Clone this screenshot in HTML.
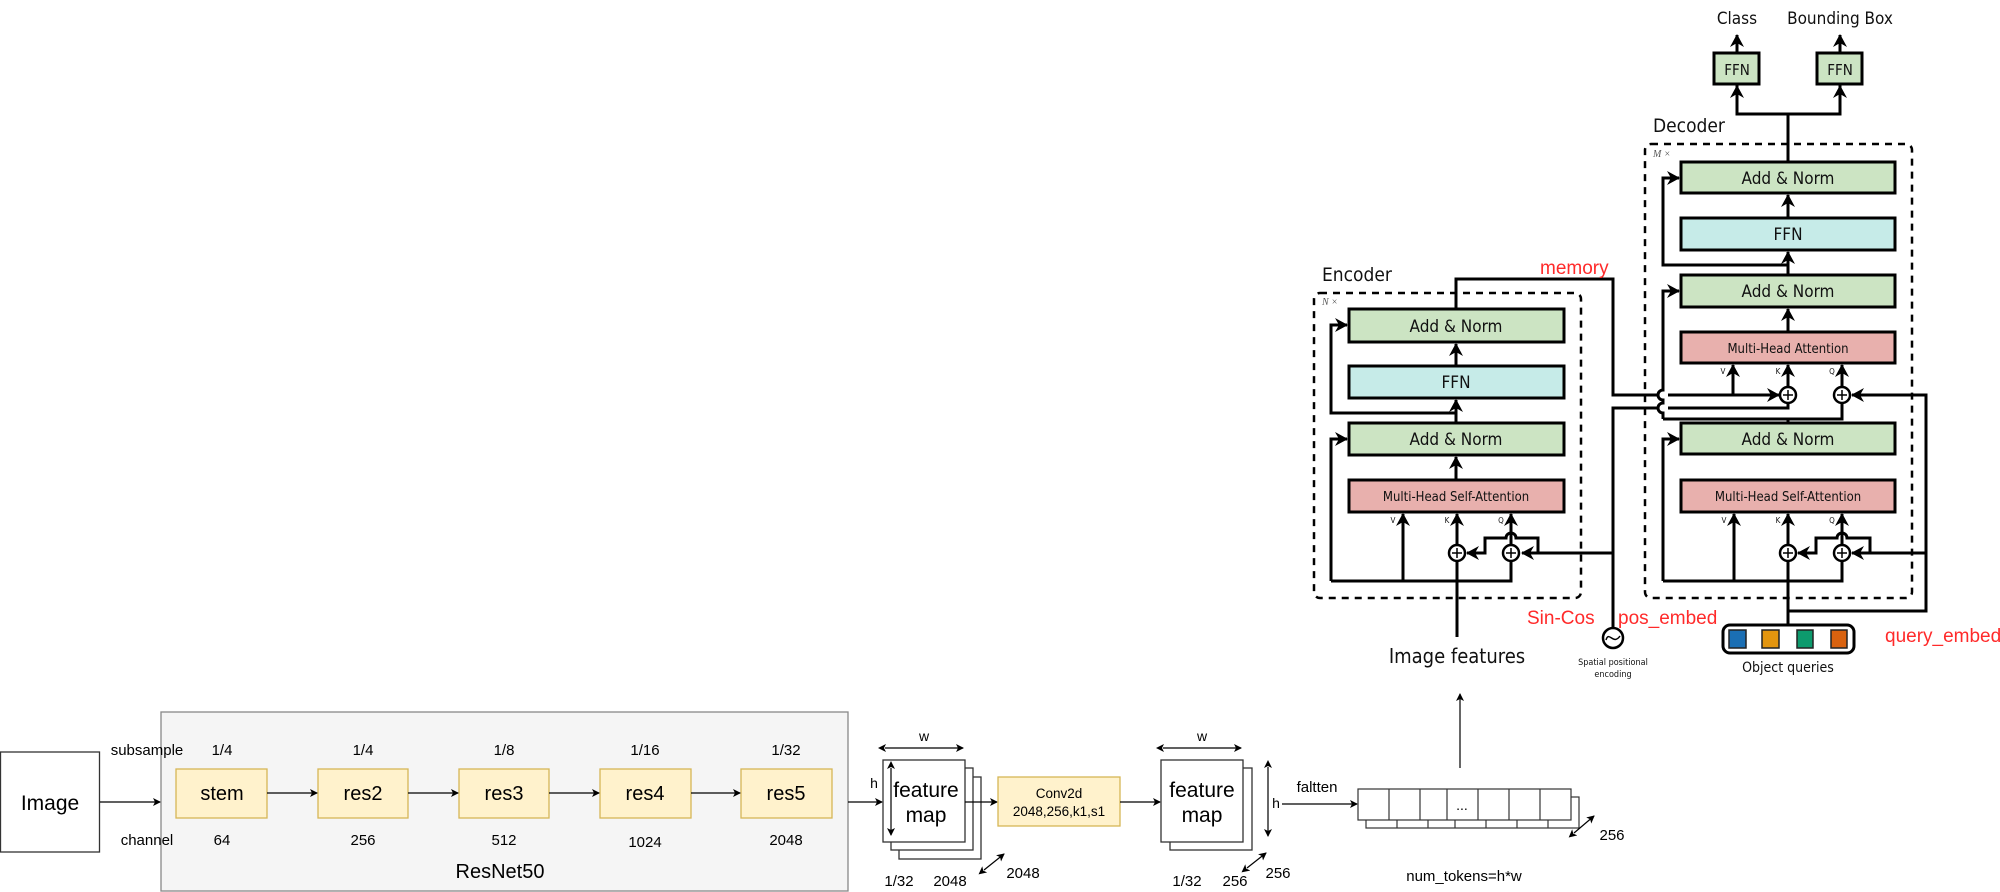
<!DOCTYPE html>
<html><head><meta charset="utf-8"><style>
html,body{margin:0;padding:0;background:#fff;}
svg{display:block;}
.h{font-family:"Liberation Sans",Arial,sans-serif;fill:#000;}
.d{font-family:"DejaVu Sans Condensed","DejaVu Sans",sans-serif;fill:#111;}
.r{font-family:"Liberation Sans",Arial,sans-serif;fill:#ff2a2a;}
</style></head><body>
<svg width="2000" height="892" viewBox="0 0 2000 892" xmlns="http://www.w3.org/2000/svg">
<defs>
<marker id="a" markerWidth="8" markerHeight="8" refX="7" refY="4" orient="auto" markerUnits="userSpaceOnUse"><path d="M0,0 L8,4 L0,8 L2,4 z" fill="#000"/></marker>
<marker id="as" markerWidth="8" markerHeight="8" refX="1" refY="4" orient="auto-start-reverse" markerUnits="userSpaceOnUse"><path d="M0,0 L8,4 L0,8 L2,4 z" fill="#000"/></marker>
<marker id="b" markerWidth="14" markerHeight="14" refX="12" refY="7" orient="auto" markerUnits="userSpaceOnUse"><path d="M0,0 L13,7 L0,14 L4,7 z" fill="#000"/></marker>
</defs>

<!-- ===== Left pipeline ===== -->
<rect x="0.5" y="752" width="99" height="100" fill="#fff" stroke="#333" stroke-width="1.3"/>
<text class="h" x="50" y="810" font-size="21" text-anchor="middle">Image</text>
<rect x="161" y="712" width="687" height="179" fill="#f5f5f5" stroke="#888" stroke-width="1.3"/>
<line x1="100" y1="802" x2="160" y2="802" stroke="#000" stroke-width="1.2" marker-end="url(#a)"/>
<text class="h" x="147" y="755" font-size="15" text-anchor="middle">subsample</text>
<text class="h" x="147" y="845" font-size="15" text-anchor="middle">channel</text>
<g font-size="15" text-anchor="middle" class="h">
<text class="h" x="222" y="755">1/4</text><text class="h" x="363" y="755">1/4</text><text class="h" x="504" y="755">1/8</text><text class="h" x="645" y="755">1/16</text><text class="h" x="786" y="755">1/32</text>
<text class="h" x="222" y="845">64</text><text class="h" x="363" y="845">256</text><text class="h" x="504" y="845">512</text><text class="h" x="645" y="847">1024</text><text class="h" x="786" y="845">2048</text>
</g>
<g fill="#fff2cc" stroke="#d6b656" stroke-width="1.3">
<rect x="176" y="769" width="91" height="49"/><rect x="318" y="769" width="90" height="49"/><rect x="459" y="769" width="90" height="49"/><rect x="600" y="769" width="91" height="49"/><rect x="741" y="769" width="91" height="49"/>
</g>
<g class="h" font-size="20" text-anchor="middle">
<text class="h" x="222" y="800">stem</text><text class="h" x="363" y="800">res2</text><text class="h" x="504" y="800">res3</text><text class="h" x="645" y="800">res4</text><text class="h" x="786" y="800">res5</text>
</g>
<g stroke="#000" stroke-width="1.2">
<line x1="267" y1="793" x2="317" y2="793" marker-end="url(#a)"/>
<line x1="408" y1="793" x2="458" y2="793" marker-end="url(#a)"/>
<line x1="549" y1="793" x2="599" y2="793" marker-end="url(#a)"/>
<line x1="691" y1="793" x2="740" y2="793" marker-end="url(#a)"/>
</g>
<text class="h" x="500" y="878" font-size="20" text-anchor="middle">ResNet50</text>

<!-- feature map 1 -->
<line x1="848" y1="802" x2="882" y2="802" stroke="#000" stroke-width="1.2" marker-end="url(#a)"/>
<rect x="899" y="777" width="82" height="82" fill="#fff" stroke="#333" stroke-width="1.3"/>
<rect x="891" y="768" width="82" height="82" fill="#fff" stroke="#333" stroke-width="1.3"/>
<rect x="883" y="760" width="82" height="82" fill="#fff" stroke="#333" stroke-width="1.3"/>
<line x1="885" y1="748" x2="963" y2="748" stroke="#000" stroke-width="1.2" marker-start="url(#as)" marker-end="url(#a)"/>
<text class="h" x="924" y="741" font-size="14" text-anchor="middle">w</text>
<text class="h" x="874" y="788" font-size="14" text-anchor="middle">h</text>
<line x1="891" y1="768" x2="891" y2="835" stroke="#000" stroke-width="1.2" marker-start="url(#as)" marker-end="url(#a)"/>
<text class="h" x="926" y="797" font-size="21" text-anchor="middle">feature</text>
<text class="h" x="926" y="822" font-size="21" text-anchor="middle">map</text>
<line x1="965" y1="802" x2="997" y2="802" stroke="#000" stroke-width="1.2" marker-end="url(#a)"/>
<text class="h" x="899" y="886" font-size="15" text-anchor="middle">1/32</text>
<text class="h" x="950" y="886" font-size="15" text-anchor="middle">2048</text>
<line x1="984" y1="870" x2="1004" y2="854" stroke="#000" stroke-width="1.2" marker-start="url(#as)" marker-end="url(#a)"/>
<text class="h" x="1023" y="878" font-size="15" text-anchor="middle">2048</text>
<!-- conv -->
<rect x="998" y="777" width="122" height="49" fill="#fff2cc" stroke="#d6b656" stroke-width="1.3"/>
<text class="h" x="1059" y="798" font-size="13.5" text-anchor="middle">Conv2d</text>
<text class="h" x="1059" y="816" font-size="13.5" text-anchor="middle">2048,256,k1,s1</text>
<line x1="1120" y1="802" x2="1160" y2="802" stroke="#000" stroke-width="1.2" marker-end="url(#a)"/>
<!-- feature map 2 -->
<rect x="1170" y="768" width="82" height="82" fill="#fff" stroke="#333" stroke-width="1.3"/>
<rect x="1161" y="760" width="82" height="82" fill="#fff" stroke="#333" stroke-width="1.3"/>
<line x1="1163" y1="748" x2="1241" y2="748" stroke="#000" stroke-width="1.2" marker-start="url(#as)" marker-end="url(#a)"/>
<text class="h" x="1202" y="741" font-size="14" text-anchor="middle">w</text>
<text class="h" x="1202" y="797" font-size="21" text-anchor="middle">feature</text>
<text class="h" x="1202" y="822" font-size="21" text-anchor="middle">map</text>
<line x1="1268" y1="767" x2="1268" y2="836" stroke="#000" stroke-width="1.2" marker-start="url(#as)" marker-end="url(#a)"/>
<text class="h" x="1276" y="808" font-size="14" text-anchor="middle">h</text>
<text class="h" x="1187" y="886" font-size="15" text-anchor="middle">1/32</text>
<text class="h" x="1235" y="886" font-size="15" text-anchor="middle">256</text>
<line x1="1247" y1="868" x2="1266" y2="853" stroke="#000" stroke-width="1.2" marker-start="url(#as)" marker-end="url(#a)"/>
<text class="h" x="1278" y="878" font-size="15" text-anchor="middle">256</text>
<!-- flatten -->
<text class="h" x="1317" y="792" font-size="15" text-anchor="middle">faltten</text>
<line x1="1282" y1="804" x2="1357" y2="804" stroke="#000" stroke-width="1.2" marker-end="url(#a)"/>
<rect x="1366" y="797" width="213" height="31" fill="#fff" stroke="#333" stroke-width="1.2"/>
<rect x="1358" y="789" width="213" height="31" fill="#fff" stroke="#333" stroke-width="1.2"/>
<g stroke="#333" stroke-width="1.2">
<line x1="1389" y1="789" x2="1389" y2="820"/><line x1="1420" y1="789" x2="1420" y2="820"/><line x1="1447" y1="789" x2="1447" y2="820"/><line x1="1478" y1="789" x2="1478" y2="820"/><line x1="1509" y1="789" x2="1509" y2="820"/><line x1="1540" y1="789" x2="1540" y2="820"/>
<line x1="1397" y1="820" x2="1397" y2="828"/><line x1="1428" y1="820" x2="1428" y2="828"/><line x1="1455" y1="820" x2="1455" y2="828"/><line x1="1486" y1="820" x2="1486" y2="828"/><line x1="1517" y1="820" x2="1517" y2="828"/><line x1="1548" y1="820" x2="1548" y2="828"/>
</g>
<text class="h" x="1462" y="810" font-size="14" text-anchor="middle">...</text>
<line x1="1574" y1="833" x2="1594" y2="816" stroke="#000" stroke-width="1.2" marker-start="url(#as)" marker-end="url(#a)"/>
<text class="h" x="1612" y="840" font-size="15" text-anchor="middle">256</text>
<text class="h" x="1464" y="881" font-size="15" text-anchor="middle">num_tokens=h*w</text>
<line x1="1460" y1="768" x2="1460" y2="694" stroke="#000" stroke-width="1.2" marker-end="url(#a)"/>

<!-- ===== Transformer ===== -->
<g stroke="#000" stroke-width="2.5" fill="none" stroke-dasharray="7,6">
<rect x="1314" y="293" width="267" height="305" rx="6"/>
<rect x="1645" y="144" width="267" height="454" rx="6"/>
</g>
<text class="d" x="1322" y="281" font-size="19">Encoder</text>
<text class="d" x="1653" y="132" font-size="19">Decoder</text>
<text x="1322" y="305" font-size="10" font-style="italic" font-family="Liberation Serif,serif" fill="#555">N ×</text>
<text x="1653" y="157" font-size="10" font-style="italic" font-family="Liberation Serif,serif" fill="#555">M ×</text>

<!-- encoder boxes -->
<g stroke="#000" stroke-width="3">
<rect x="1349" y="309" width="215" height="33" fill="#cce4c3"/>
<rect x="1349" y="366" width="215" height="32" fill="#c6ebe8"/>
<rect x="1349" y="423" width="215" height="32" fill="#cce4c3"/>
<rect x="1349" y="480" width="215" height="32" fill="#e8b0ad"/>
</g>
<g class="d" text-anchor="middle">
<text class="d" x="1456" y="332" font-size="17">Add &amp; Norm</text>
<text class="d" x="1456" y="388" font-size="17">FFN</text>
<text class="d" x="1456" y="445" font-size="17">Add &amp; Norm</text>
<text class="d" x="1456" y="501" font-size="13">Multi-Head  Self-Attention</text>
</g>
<!-- decoder boxes -->
<g stroke="#000" stroke-width="3">
<rect x="1681" y="162" width="214" height="31" fill="#cce4c3"/>
<rect x="1681" y="218" width="214" height="32" fill="#c6ebe8"/>
<rect x="1681" y="275" width="214" height="32" fill="#cce4c3"/>
<rect x="1681" y="332" width="214" height="31" fill="#e8b0ad"/>
<rect x="1681" y="423" width="214" height="31" fill="#cce4c3"/>
<rect x="1681" y="480" width="214" height="32" fill="#e8b0ad"/>
<rect x="1714" y="53" width="45" height="31" fill="#cce4c3"/>
<rect x="1817" y="53" width="45" height="31" fill="#cce4c3"/>
</g>
<g class="d" text-anchor="middle">
<text class="d" x="1788" y="184" font-size="17">Add &amp; Norm</text>
<text class="d" x="1788" y="240" font-size="17">FFN</text>
<text class="d" x="1788" y="297" font-size="17">Add &amp; Norm</text>
<text class="d" x="1788" y="353" font-size="13">Multi-Head  Attention</text>
<text class="d" x="1788" y="445" font-size="17">Add &amp; Norm</text>
<text class="d" x="1788" y="501" font-size="13">Multi-Head  Self-Attention</text>
<text class="d" x="1737" y="75" font-size="15">FFN</text>
<text class="d" x="1840" y="75" font-size="15">FFN</text>
<text class="d" x="1737" y="24" font-size="17">Class</text>
<text class="d" x="1840" y="24" font-size="17">Bounding Box</text>
</g>

<g stroke="#000" stroke-width="3" fill="none">
<!-- heads -->
<line x1="1788" y1="162" x2="1788" y2="114"/>
<polyline points="1737,84 1737,114 1840,114 1840,84"/>
<line x1="1737" y1="114" x2="1737" y2="86" marker-end="url(#b)"/>
<line x1="1840" y1="114" x2="1840" y2="86" marker-end="url(#b)"/>
<line x1="1737" y1="53" x2="1737" y2="35" marker-end="url(#b)"/>
<line x1="1840" y1="53" x2="1840" y2="35" marker-end="url(#b)"/>
<!-- decoder internal -->
<line x1="1788" y1="218" x2="1788" y2="195" marker-end="url(#b)"/>
<line x1="1788" y1="275" x2="1788" y2="252" marker-end="url(#b)"/>
<line x1="1788" y1="332" x2="1788" y2="309" marker-end="url(#b)"/>
<polyline points="1788,265 1663,265 1663,178 1679,178" marker-end="url(#b)"/>
<path d="M1663,419 L1663,413 A5,5 0 0 1 1663,403 L1663,400 A5,5 0 0 1 1663,390 L1663,291 L1679,291" marker-end="url(#b)"/>
<line x1="1733" y1="395" x2="1733" y2="365" marker-end="url(#b)"/>
<line x1="1788" y1="387" x2="1788" y2="365" marker-end="url(#b)"/>
<line x1="1842" y1="387" x2="1842" y2="365" marker-end="url(#b)"/>
<polyline points="1663,419 1842,419 1842,403"/>
<line x1="1788" y1="423" x2="1788" y2="419"/>
<!-- memory -->
<polyline points="1456,309 1456,279 1613,279 1613,395 1658,395"/>
<line x1="1668" y1="395" x2="1779" y2="395" marker-end="url(#b)"/>
<!-- pos -->
<polyline points="1613,627 1613,408 1658,408"/>
<polyline points="1668,408 1788,408 1788,403"/>
<line x1="1613" y1="553" x2="1522" y2="553" marker-end="url(#b)"/>
<!-- query -->
<polyline points="1788,625 1788,611 1926,611 1926,395 1852,395"/>
<line x1="1926" y1="395" x2="1852" y2="395" marker-end="url(#b)"/>
<line x1="1926" y1="553" x2="1852" y2="553" marker-end="url(#b)"/>
<!-- decoder self-att -->
<line x1="1788" y1="625" x2="1788" y2="561"/>
<line x1="1788" y1="545" x2="1788" y2="514" marker-end="url(#b)"/>
<line x1="1842" y1="545" x2="1842" y2="514" marker-end="url(#b)"/>
<line x1="1734" y1="581" x2="1734" y2="514" marker-end="url(#b)"/>
<polyline points="1663,581 1663,439 1679,439" marker-end="url(#b)"/>
<polyline points="1663,581 1842,581 1842,561"/>
<path d="M1870,553 L1870,538 L1847,538 A5,5 0 0 0 1837,538 L1816,538 L1816,553 L1798,553" marker-end="url(#b)"/>
<!-- encoder internal -->
<line x1="1456" y1="366" x2="1456" y2="344" marker-end="url(#b)"/>
<line x1="1456" y1="423" x2="1456" y2="400" marker-end="url(#b)"/>
<line x1="1456" y1="480" x2="1456" y2="457" marker-end="url(#b)"/>
<polyline points="1456,413 1331,413 1331,325 1347,325" marker-end="url(#b)"/>
<polyline points="1331,581 1331,439 1347,439" marker-end="url(#b)"/>
<line x1="1403" y1="581" x2="1403" y2="514" marker-end="url(#b)"/>
<line x1="1457" y1="545" x2="1457" y2="514" marker-end="url(#b)"/>
<line x1="1511" y1="545" x2="1511" y2="514" marker-end="url(#b)"/>
<line x1="1457" y1="637" x2="1457" y2="561"/>
<polyline points="1331,581 1511,581 1511,561"/>
<path d="M1538,553 L1538,538 L1516,538 A5,5 0 0 0 1506,538 L1485,538 L1485,553 L1467,553" marker-end="url(#b)"/>
</g>
<!-- plus circles -->
<g stroke="#000" stroke-width="2.5" fill="#fff">
<circle cx="1457" cy="553" r="8"/><circle cx="1511" cy="553" r="8"/>
<circle cx="1788" cy="553" r="8"/><circle cx="1842" cy="553" r="8"/>
<circle cx="1788" cy="395" r="8"/><circle cx="1842" cy="395" r="8"/>
</g>
<g stroke="#000" stroke-width="1.5">
<path d="M1452,553h10M1457,548v10M1506,553h10M1511,548v10M1783,553h10M1788,548v10M1837,553h10M1842,548v10M1783,395h10M1788,390v10M1837,395h10M1842,390v10"/>
</g>
<g class="d" font-size="8" fill="#333" text-anchor="middle">
<text class="d" x="1393" y="523" font-size="8">V</text><text class="d" x="1447" y="523" font-size="8">K</text><text class="d" x="1501" y="523" font-size="8">Q</text>
<text class="d" x="1724" y="523" font-size="8">V</text><text class="d" x="1778" y="523" font-size="8">K</text><text class="d" x="1832" y="523" font-size="8">Q</text>
<text class="d" x="1723" y="374" font-size="8">V</text><text class="d" x="1778" y="374" font-size="8">K</text><text class="d" x="1832" y="374" font-size="8">Q</text>
</g>
<!-- pos encoding -->
<circle cx="1613" cy="638" r="10" fill="#fff" stroke="#000" stroke-width="2.5"/>
<path d="M1606,640 C1609,630 1613,646 1620,636" stroke="#000" stroke-width="1.5" fill="none"/>
<text class="d" x="1613" y="665" font-size="9" fill="#555" text-anchor="middle">Spatial  positional</text>
<text class="d" x="1613" y="677" font-size="9" fill="#555" text-anchor="middle">encoding</text>
<!-- object queries -->
<rect x="1723" y="625" width="131" height="28" rx="7" fill="#fff" stroke="#000" stroke-width="3"/>
<g stroke="#222" stroke-width="1.5">
<rect x="1729" y="630" width="17" height="18" fill="#1b6fb4"/>
<rect x="1762" y="630" width="17" height="18" fill="#e3950e"/>
<rect x="1797" y="630" width="16" height="18" fill="#0d9a6d"/>
<rect x="1831" y="630" width="16" height="18" fill="#d9620f"/>
</g>
<text class="d" x="1788" y="672" font-size="14" text-anchor="middle">Object  queries</text>
<text class="d" x="1457" y="663" font-size="20" text-anchor="middle">Image features</text>
<!-- red labels -->
<text class="r" x="1540" y="274" font-size="19">memory</text>
<text class="r" x="1527" y="624" font-size="19">Sin-Cos</text>
<text class="r" x="1618" y="624" font-size="19">pos_embed</text>
<text class="r" x="1885" y="642" font-size="19">query_embed</text>
</svg>
</body></html>
